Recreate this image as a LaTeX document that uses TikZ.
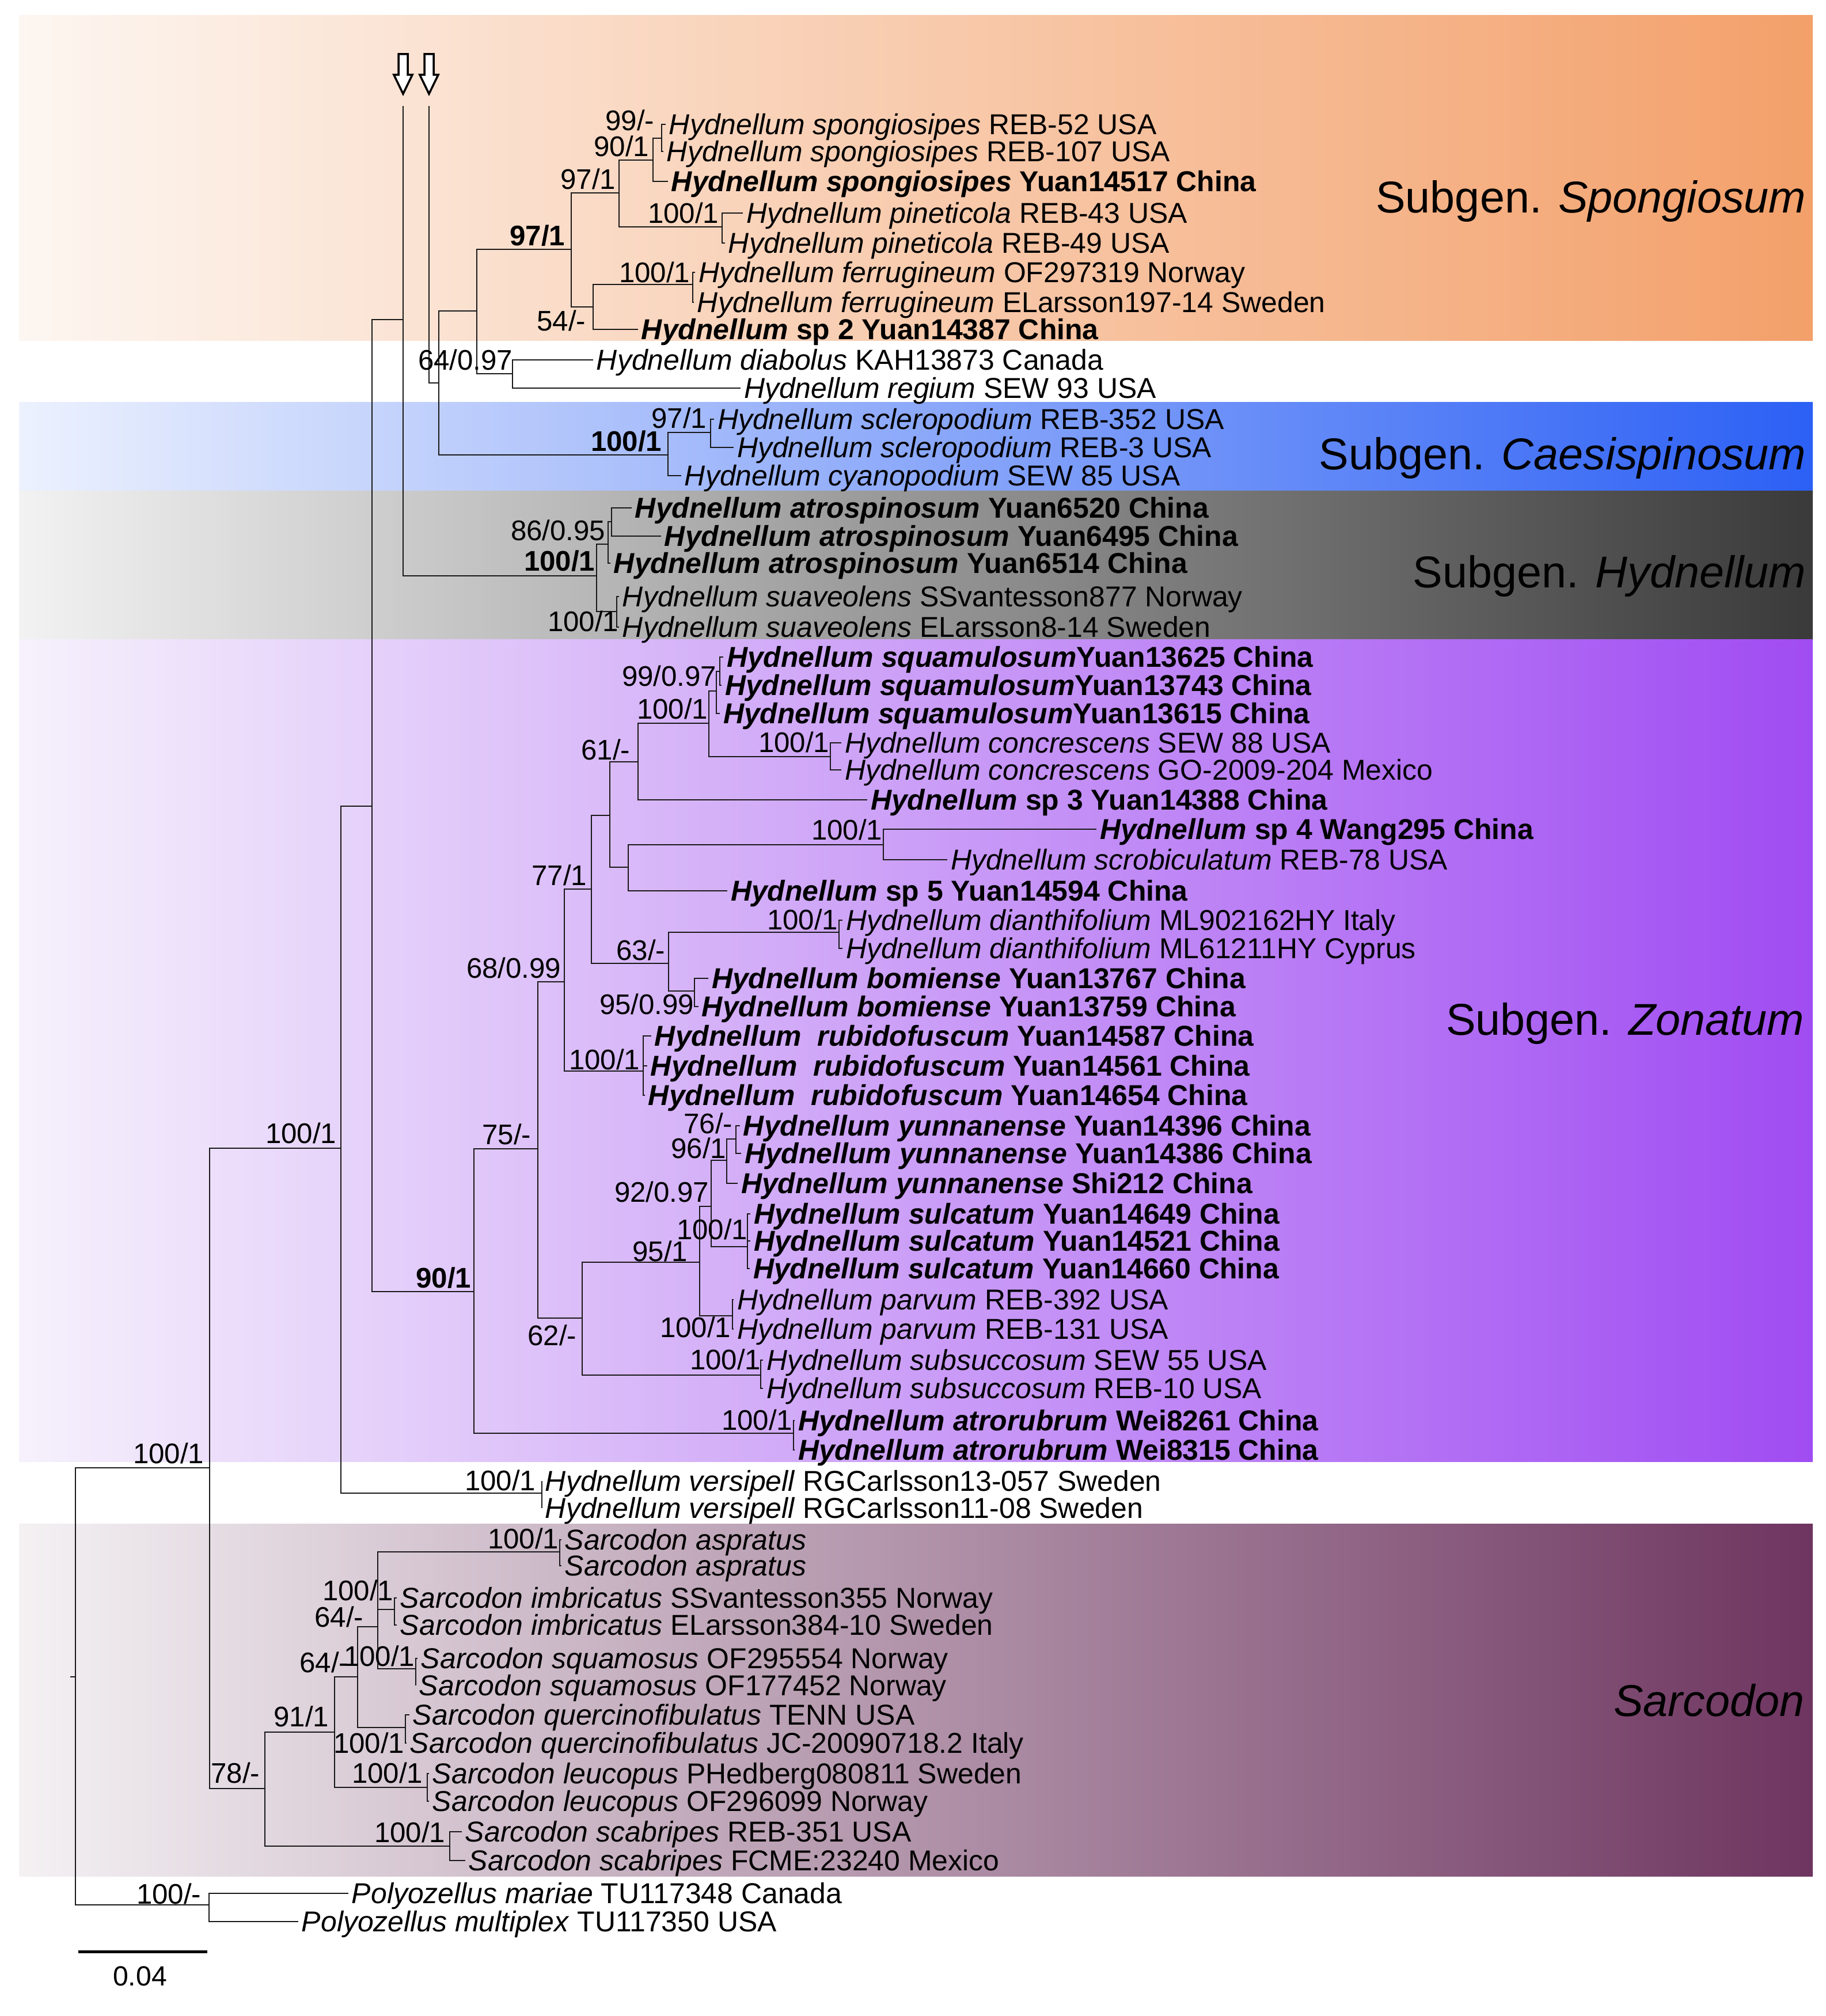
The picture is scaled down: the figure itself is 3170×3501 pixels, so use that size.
\documentclass[tikz,border=0pt]{standalone}
\usepackage{fontspec}
\setmainfont{Liberation Sans}
\definecolor{spoL}{RGB}{253,246,241}
\definecolor{spoR}{RGB}{243,160,106}
\definecolor{caeL}{RGB}{236,241,254}
\definecolor{caeR}{RGB}{44,96,245}
\definecolor{hydL}{RGB}{242,242,242}
\definecolor{hydR}{RGB}{58,58,58}
\definecolor{zonL}{RGB}{246,241,252}
\definecolor{zonR}{RGB}{160,76,242}
\definecolor{sarL}{RGB}{244,241,243}
\definecolor{sarR}{RGB}{110,53,96}
\tikzset{
  br/.style={line width=0.65pt, draw=black!90},
  leaf/.style={anchor=west, inner sep=1.5pt, text height=10pt, text depth=0pt, font=\fontsize{14.2}{16}\selectfont},
  bs/.style={anchor=east, inner sep=0pt, text height=9.6pt, text depth=0pt, font=\fontsize{14}{15}\selectfont},
  grp/.style={anchor=east, inner sep=0pt, text height=15.7pt, text depth=0pt, font=\fontsize{22}{26}\selectfont},
}
\begin{document}
\begin{tikzpicture}[x=0.01cm, y=-0.01cm]
\useasboundingbox (0,0) rectangle (3170,3501);
\fill[white] (0,0) rectangle (3170,3501);
% clade bands
\shade[left color=spoL, right color=spoR] (33,27) rectangle (3148,592);
\shade[left color=caeL, right color=caeR] (33,699) rectangle (3148,853);
\shade[left color=hydL, right color=hydR] (33,853) rectangle (3148,1110);
\shade[left color=zonL, right color=zonR] (33,1110) rectangle (3148,2538);
\shade[left color=sarL, right color=sarR] (33,2646) rectangle (3148,3258);

\node[grp] (tSpo) at (3137,342) {Subgen. \textit{Spongiosum}};
\node[grp] (tCae) at (3137,788) {Subgen. \textit{Caesispinosum}};
\node[grp] (tHyd) at (3137,993) {Subgen. \textit{Hydnellum}};
\node[grp] (tZon) at (3134,1770) {Subgen. \textit{Zonatum}};
\node[grp] (tSar) at (3134,2953) {\textit{Sarcodon}};

% leaves
\node[leaf] (l01) at (1156,216) {\textit{Hydnellum spongiosipes} REB-52 USA};
\node[leaf] (l02) at (1152,263) {\textit{Hydnellum spongiosipes} REB-107 USA};
\node[leaf] (l03) at (1160,315) {\textbf{\textit{Hydnellum spongiosipes} Yuan14517 China}};
\node[leaf] (l04) at (1290,370) {\textit{Hydnellum pineticola} REB-43 USA};
\node[leaf] (l05) at (1259,422) {\textit{Hydnellum pineticola} REB-49 USA};
\node[leaf] (l06) at (1207,473) {\textit{Hydnellum ferrugineum} OF297319 Norway};
\node[leaf] (l07) at (1205,525) {\textit{Hydnellum ferrugineum} ELarsson197-14 Sweden};
\node[leaf] (l08) at (1108,572) {\textbf{\textit{Hydnellum} sp 2 Yuan14387 China}};
\node[leaf] (l09) at (1030,625) {\textit{Hydnellum diabolus} KAH13873 Canada};
\node[leaf] (l10) at (1286,674) {\textit{Hydnellum regium} SEW 93 USA};
\node[leaf] (l11) at (1240,728) {\textit{Hydnellum scleropodium} REB-352 USA};
\node[leaf] (l12) at (1274,777) {\textit{Hydnellum scleropodium} REB-3 USA};
\node[leaf] (l13) at (1183,826) {\textit{Hydnellum cyanopodium} SEW 85 USA};
\node[leaf] (l14) at (1097,882) {\textbf{\textit{Hydnellum atrospinosum} Yuan6520 China}};
\node[leaf] (l15) at (1148,931) {\textbf{\textit{Hydnellum atrospinosum} Yuan6495 China}};
\node[leaf] (l16) at (1060,978) {\textbf{\textit{Hydnellum atrospinosum} Yuan6514 China}};
\node[leaf] (l17) at (1075,1036) {\textit{Hydnellum suaveolens} SSvantesson877 Norway};
\node[leaf] (l18) at (1075,1089) {\textit{Hydnellum suaveolens} ELarsson8-14 Sweden};
\node[leaf] (l19) at (1256,1141) {\textbf{\textit{Hydnellum squamulosum}Yuan13625 China}};
\node[leaf] (l20) at (1253,1190) {\textbf{\textit{Hydnellum squamulosum}Yuan13743 China}};
\node[leaf] (l21) at (1250,1239) {\textbf{\textit{Hydnellum squamulosum}Yuan13615 China}};
\node[leaf] (l22) at (1461,1290) {\textit{Hydnellum concrescens} SEW 88 USA};
\node[leaf] (l23) at (1461,1337) {\textit{Hydnellum concrescens} GO-2009-204 Mexico};
\node[leaf] (l24) at (1506,1389) {\textbf{\textit{Hydnellum} sp 3 Yuan14388 China}};
\node[leaf] (l25) at (1904,1440) {\textbf{\textit{Hydnellum} sp 4 Wang295 China}};
\node[leaf] (l26) at (1645,1493) {\textit{Hydnellum scrobiculatum} REB-78 USA};
\node[leaf] (l27) at (1263,1547) {\textbf{\textit{Hydnellum} sp 5 Yuan14594 China}};
\node[leaf] (l28) at (1463,1598) {\textit{Hydnellum dianthifolium} ML902162HY Italy};
\node[leaf] (l29) at (1463,1647) {\textit{Hydnellum dianthifolium} ML61211HY Cyprus};
\node[leaf] (l30) at (1230,1699) {\textbf{\textit{Hydnellum bomiense} Yuan13767 China}};
\node[leaf] (l31) at (1213,1748) {\textbf{\textit{Hydnellum bomiense} Yuan13759 China}};
\node[leaf] (l32) at (1131,1799) {\textbf{\textit{Hydnellum\ \ rubidofuscum} Yuan14587 China}};
\node[leaf] (l33) at (1124,1851) {\textbf{\textit{Hydnellum\ \ rubidofuscum} Yuan14561 China}};
\node[leaf] (l34) at (1120,1902) {\textbf{\textit{Hydnellum\ \ rubidofuscum} Yuan14654 China}};
\node[leaf] (l35) at (1285,1955) {\textbf{\textit{Hydnellum yunnanense} Yuan14396 China}};
\node[leaf] (l36) at (1287,2003) {\textbf{\textit{Hydnellum yunnanense} Yuan14386 China}};
\node[leaf] (l37) at (1281,2055) {\textbf{\textit{Hydnellum yunnanense} Shi212 China}};
\node[leaf] (l38) at (1303,2108) {\textbf{\textit{Hydnellum sulcatum} Yuan14649 China}};
\node[leaf] (l39) at (1303,2155) {\textbf{\textit{Hydnellum sulcatum} Yuan14521 China}};
\node[leaf] (l40) at (1302,2203) {\textbf{\textit{Hydnellum sulcatum} Yuan14660 China}};
\node[leaf] (l41) at (1274,2257) {\textit{Hydnellum parvum} REB-392 USA};
\node[leaf] (l42) at (1274,2308) {\textit{Hydnellum parvum} REB-131 USA};
\node[leaf] (l43) at (1325,2362) {\textit{Hydnellum subsuccosum} SEW 55 USA};
\node[leaf] (l44) at (1325,2411) {\textit{Hydnellum subsuccosum} REB-10 USA};
\node[leaf] (l45) at (1380,2467) {\textbf{\textit{Hydnellum atrorubrum} Wei8261 China}};
\node[leaf] (l46) at (1380,2518) {\textbf{\textit{Hydnellum atrorubrum} Wei8315 China}};
\node[leaf] (l47) at (941,2572) {\textit{Hydnellum versipell} RGCarlsson13-057 Sweden};
\node[leaf] (l48) at (941,2619) {\textit{Hydnellum versipell} RGCarlsson11-08 Sweden};
\node[leaf] (l49) at (975,2674) {\textit{Sarcodon aspratus}};
\node[leaf] (l50) at (975,2719) {\textit{Sarcodon aspratus}};
\node[leaf] (l51) at (689,2775) {\textit{Sarcodon imbricatus} SSvantesson355 Norway};
\node[leaf] (l52) at (689,2822) {\textit{Sarcodon imbricatus} ELarsson384-10 Sweden};
\node[leaf] (l53) at (725,2880) {\textit{Sarcodon squamosus} OF295554 Norway};
\node[leaf] (l54) at (722,2927) {\textit{Sarcodon squamosus} OF177452 Norway};
\node[leaf] (l55) at (711,2978) {\textit{Sarcodon quercinofibulatus} TENN USA};
\node[leaf] (l56) at (706,3027) {\textit{Sarcodon quercinofibulatus} JC-20090718.2 Italy};
\node[leaf] (l57) at (745,3080) {\textit{Sarcodon leucopus} PHedberg080811 Sweden};
\node[leaf] (l58) at (745,3128) {\textit{Sarcodon leucopus} OF296099 Norway};
\node[leaf] (l59) at (802,3181) {\textit{Sarcodon scabripes} REB-351 USA};
\node[leaf] (l60) at (808,3231) {\textit{Sarcodon scabripes} FCME:23240 Mexico};
\node[leaf] (l61) at (605,3288) {\textit{Polyozellus mariae} TU117348 Canada};
\node[leaf] (l62) at (518,3337) {\textit{Polyozellus multiplex} TU117350 USA};

% internal nodes
\coordinate (rt0) at (122,2912);
\coordinate (root) at (131,2912);
\coordinate (nA) at (364,2549);
\coordinate (nP) at (363,3308);
\coordinate (nB) at (592,1994);
\coordinate (nSar) at (460,3106);
\coordinate (nC) at (646,1400);
\coordinate (nVer) at (941,2593);
\coordinate (arrE) at (700,184);
\coordinate (arrF) at (745,184);
\coordinate (nE) at (700,555);
\coordinate (nD) at (823,2243);
\coordinate (nHy) at (1036,1000);
\coordinate (nAtro) at (1056,945);
\coordinate (nAtroB) at (1062,906);
\coordinate (nSuav) at (1071,1062);
\coordinate (nH) at (762,665);
\coordinate (nG) at (828,540);
\coordinate (nDR) at (890,649);
\coordinate (nS97) at (992,433);
\coordinate (n97) at (1075,335);
\coordinate (n90) at (1134,278);
\coordinate (n99) at (1149,240);
\coordinate (nPin) at (1254,394);
\coordinate (n54) at (1030,533);
\coordinate (nFer) at (1203,494);
\coordinate (nCae) at (1160,790);
\coordinate (nScl) at (1234,751);
\coordinate (nI) at (934,1995);
\coordinate (nK) at (980,1705);
\coordinate (nJ) at (1011,2289);
\coordinate (nL) at (1027,1544);
\coordinate (nO) at (1059,1416);
\coordinate (nN) at (1108,1323);
\coordinate (nR) at (1231,1256);
\coordinate (nS) at (1244,1200);
\coordinate (nS1) at (1250,1166);
\coordinate (nT) at (1442,1314);
\coordinate (nPp) at (1091,1506);
\coordinate (nQ) at (1534,1467);
\coordinate (nU) at (1161,1673);
\coordinate (nV) at (1457,1619);
\coordinate (nW) at (1206,1721);
\coordinate (nX) at (1117,1860);
\coordinate (nY) at (1215,2192);
\coordinate (nZ) at (1235,2095);
\coordinate (nAA) at (1262,2015);
\coordinate (nAC) at (1278,1978);
\coordinate (nAB) at (1298,2165);
\coordinate (nAD) at (1272,2285);
\coordinate (nAE) at (1321,2388);
\coordinate (nAF) at (1378,2489);
\coordinate (nAI) at (581,3008);
\coordinate (nAJ) at (781,3206);
\coordinate (nAK) at (621,2912);
\coordinate (nAL) at (742,3104);
\coordinate (nAM) at (656,2825);
\coordinate (nAN) at (704,3000);
\coordinate (nAO) at (972,2695);
\coordinate (nAP) at (685,2795);
\coordinate (nAQ) at (722,2898);

% branches
\draw[br] (rt0) -- (root);
\draw[br] (arrE) -- (nE);
\draw[br] (arrF) |- (nH);
\foreach \p/\c in {root/nA, root/nP, nA/nB, nA/nSar, nB/nC, nB/nVer, nC/nE, nC/nD,
    nE/nHy, nHy/nAtro, nHy/nSuav, nAtro/nAtroB, nH/nG, nH/nCae, nG/nS97, nG/nDR,
    nS97/n97, nS97/n54, n97/n90, n97/nPin, n90/n99, n54/nFer, nCae/nScl,
    nD/nI, nD/nAF, nI/nK, nI/nJ, nK/nL, nK/nX, nL/nO, nL/nU, nO/nN, nO/nPp,
    nN/nR, nR/nS, nR/nT, nS/nS1, nPp/nQ, nU/nV, nU/nW, nJ/nY, nJ/nAE,
    nY/nZ, nY/nAD, nZ/nAA, nZ/nAB, nAA/nAC, nSar/nAI, nSar/nAJ, nAI/nAK, nAI/nAL,
    nAK/nAM, nAK/nAN, nAM/nAO, nAM/nAP, nAM/nAQ,
    n99/l01, n99/l02, n90/l03, nPin/l04, nPin/l05, nFer/l06, nFer/l07, n54/l08,
    nDR/l09, nDR/l10, nScl/l11, nScl/l12, nCae/l13, nAtroB/l14, nAtroB/l15, nAtro/l16,
    nSuav/l17, nSuav/l18, nS1/l19, nS1/l20, nS/l21, nT/l22, nT/l23, nN/l24,
    nQ/l25, nQ/l26, nPp/l27, nV/l28, nV/l29, nW/l30, nW/l31, nX/l32, nX/l33, nX/l34,
    nAC/l35, nAC/l36, nAA/l37, nAB/l38, nAB/l39, nAB/l40, nAD/l41, nAD/l42,
    nAE/l43, nAE/l44, nAF/l45, nAF/l46, nVer/l47, nVer/l48, nAO/l49, nAO/l50,
    nAP/l51, nAP/l52, nAQ/l53, nAQ/l54, nAN/l55, nAN/l56, nAL/l57, nAL/l58,
    nAJ/l59, nAJ/l60, nP/l61, nP/l62}
  \draw[br] (\p) |- (\c);

% marked nodes
\foreach \c in {700,745}
  \draw[line width=1pt, fill=white] (\c-8,94) -- (\c+8,94) -- (\c+8,130) -- (\c+16,130)
    -- (\c,163) -- (\c-16,130) -- (\c-8,130) -- cycle;

% support values
\node[bs] (s01) at (1137,210) {99/-};
\node[bs] (s02) at (1128,255) {90/1};
\node[bs] (s03) at (1070,312) {97/1};
\node[bs] (s04) at (1249,371) {100/1};
\node[bs] (s05) at (982,410) {\textbf{97/1}};
\node[bs] (s06) at (1199,474) {100/1};
\node[bs] (s07) at (1018,558) {54/-};
\node[bs] (s08) at (891,626) {64/0.97};
\node[bs] (s09) at (1228,727) {97/1};
\node[bs] (s10) at (1150,767) {\textbf{100/1}};
\node[bs] (s11) at (1052,922) {86/0.95};
\node[bs] (s12) at (1034,975) {\textbf{100/1}};
\node[bs] (s13) at (1075,1080) {100/1};
\node[bs] (s14) at (1245,1175) {99/0.97};
\node[bs] (s15) at (1230,1232) {100/1};
\node[bs] (s16) at (1441,1290) {100/1};
\node[bs] (s17) at (1095,1303) {61/-};
\node[bs] (s18) at (1533,1442) {100/1};
\node[bs] (s19) at (1020,1521) {77/1};
\node[bs] (s20) at (1456,1598) {100/1};
\node[bs] (s21) at (1156,1651) {63/-};
\node[bs] (s22) at (975,1682) {68/0.99};
\node[bs] (s23) at (1206,1745) {95/0.99};
\node[bs] (s24) at (1112,1841) {100/1};
\node[bs] (s25) at (923,1971) {75/-};
\node[bs] (s26) at (1273,1952) {76/-};
\node[bs] (s27) at (1262,1995) {96/1};
\node[bs] (s28) at (1232,2071) {92/0.97};
\node[bs] (s29) at (1299,2136) {100/1};
\node[bs] (s30) at (1195,2174) {95/1};
\node[bs] (s31) at (819,2220) {\textbf{90/1}};
\node[bs] (s32) at (1270,2306) {100/1};
\node[bs] (s33) at (1002,2320) {62/-};
\node[bs] (s34) at (1322,2362) {100/1};
\node[bs] (s35) at (1377,2467) {100/1};
\node[bs] (s36) at (931,2572) {100/1};
\node[bs] (s37) at (585,1969) {100/1};
\node[bs] (s38) at (355,2525) {100/1};
\node[bs] (s39) at (971,2673) {100/1};
\node[bs] (s40) at (684,2763) {100/1};
\node[bs] (s41) at (632,2809) {64/-};
\node[bs] (s42) at (721,2877) {100/1};
\node[bs] (s43) at (606,2888) {64/-};
\node[bs] (s44) at (572,2982) {91/1};
\node[bs] (s45) at (703,3028) {100/1};
\node[bs] (s46) at (735,3080) {100/1};
\node[bs] (s47) at (774,3183) {100/1};
\node[bs] (s48) at (452,3080) {78/-};
\node[bs] (s49) at (350,3290) {100/-};

% scale bar
\coordinate (sb1) at (136,3389);
\coordinate (sb2) at (360,3389);
\draw[line width=1.4pt] (sb1) -- (sb2);
\node[font=\fontsize{13.7}{15}\selectfont] (sbl) at (243,3432) {0.04};
\end{tikzpicture}
\end{document}
